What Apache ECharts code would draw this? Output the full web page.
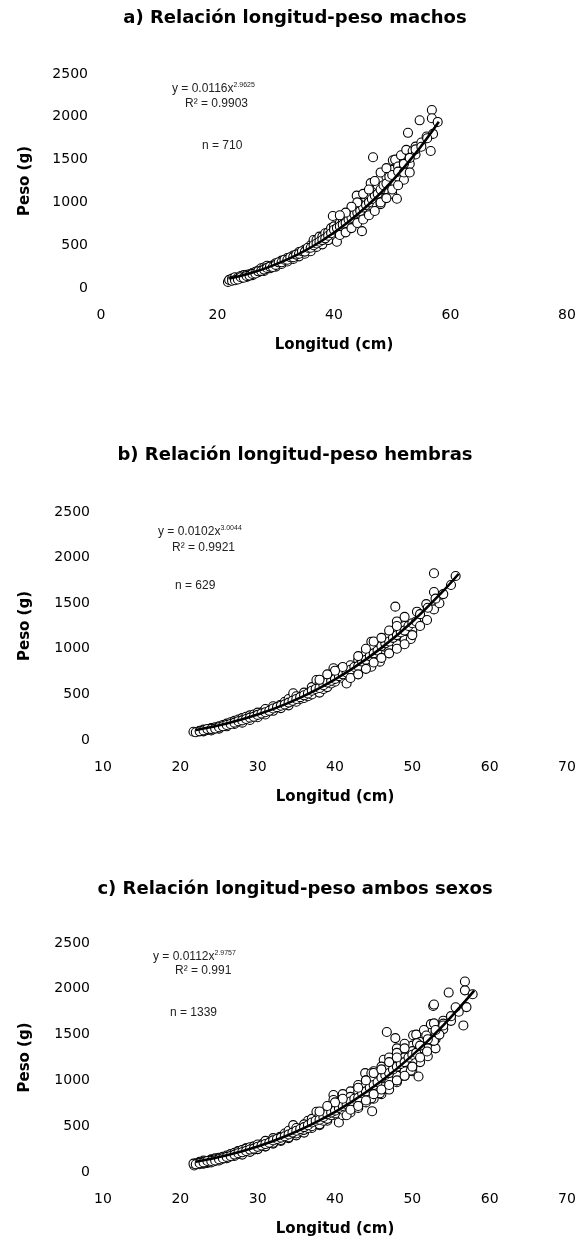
<!DOCTYPE html>
<html>
<head>
<meta charset="utf-8">
<script src="https://cdn.jsdelivr.net/npm/echarts@6/dist/echarts.min.js"></script>
<style>
  html, body { margin: 0; padding: 0; background: #fff; }
  #chart { width: 581px; height: 1247px; }
</style>
</head>
<body>
<div id="chart"></div>
<script>
// Length (cm) / weight (g) pairs, males
const machos = [
  [21.8,71],[22,95],[22.5,110],[23,105],[23,125],[23.5,120],[24,115],[24,140],[24.5,150],[25,130],
  [25,155],[25.5,160],[26,150],[26,175],[26.5,190],[27,185],[27,205],[27.5,230],[28,200],[28,240],
  [28.5,260],[29,230],[29.5,265],[30,250],[30,290],[31,280],[31,320],[32,310],[32,350],[33,340],
  [33,380],[34,370],[34,420],[35,400],[35,450],[36,430],[36,500],[36.5,560],[37,480],[37,560],
  [37.5,600],[38,510],[38,600],[38.5,640],[39,560],[39,650],[39.5,700],[39.8,841],[40,620],[40,720],
  [40.5,540],[41,660],[41,760],[41.5,800],[42,700],[42,820],[42.5,880],[43,760],[43,900],[43.9,1079],
  [44,800],[44,950],[44.8,664],[45,870],[45,1000],[45.5,1050],[46,900],[46,1060],[46.3,1225],[46.5,960],
  [46.7,1528],[47,1000],[47,1150],[47.5,1200],[48,980],[48,1100],[48,1280],[48.5,1050],[49,1150],[49,1300],
  [49.5,1200],[50,1100],[50,1250],[50,1380],[50.1,1493],[50.5,1500],[50.8,1043],[51,1300],[51,1420],[51.5,1550],
  [52,1264],[52,1400],[52.4,1614],[52.7,1813],[53,1450],[53.5,1600],[54,1652],[54,1560],[54.7,1959],[55,1700],
  [55.9,1770],[56.6,1600],[56.8,2080],[56.8,1983],[57,1800],[57.8,1940],
  [22.5,85],[23,90],[23.5,100],[24,125],[24.5,120],[25,140],[25.5,145],[26,165],[26.5,170],[27,195],
  [27.5,200],[28,215],[28.5,235],[29,250],[29.5,245],[30,270],[30.5,300],[31,300],[31.5,330],[32,330],
  [32.5,360],[33,360],[33.5,390],[34,400],[34.5,430],[35,425],[35.5,470],[36,470],[36.5,500],[37,520],
  [37.5,540],[38,560],[38.5,580],[39,610],[39.5,640],[40,680],[40.5,700],[41,720],[41.5,740],[42,760],
  [42.5,800],[43,820],[43.5,860],[44,880],[44.5,900],[45,940],[45.5,970],[46,1000],[46.5,1040],[47,1080],
  [47.5,1100],[48,1150],[48.5,1200],[49,1220],[49.5,1300],[50,1320],[51,1360],[52,1450],[53,1520],[54,1620],
  [55,1650],[56,1750],
  [41,620],[42,650],[43,700],[44,760],[45,800],[46,850],[47,900],[48,1000],[49,1050],[50,1150],
  [44,1000],[45,1100],[46,1150],[47,1250],[48,1350],[49,1400],[51,1200],[52,1350],[53,1350],[43,950],
  [42,880],[41,850]
];

// Length (cm) / weight (g) pairs, females
const hembras = [
  [21.7,91],[22.5,100],[23,95],[23,115],[23.5,110],[24,105],[24,130],[24.5,140],[25,125],[25,150],
  [25.5,165],[26,150],[26,180],[26.5,195],[27,175],[27,210],[27.5,225],[28,190],[28,240],[28.5,255],
  [29,220],[29,270],[29.5,280],[30,250],[30,300],[30.7,311],[31,280],[31,340],[32,320],[32,370],
  [32.9,384],[33,350],[33.5,420],[34,380],[34,450],[34.6,512],[35,420],[35,480],[35.5,450],[36,460],
  [36,520],[36.5,480],[37,500],[37,580],[37.6,658],[38,520],[38,620],[38.5,560],[39,580],[39,680],
  [39.5,620],[39.8,786],[40,640],[40,720],[40.8,786],[41,680],[41,760],[41.5,620],[42,720],[42,820],
  [42.5,780],[43,750],[43,880],[43.5,830],[44,820],[44,950],[44.7,804],[44.7,1078],[45,900],[45,1010],
  [45.8,859],[46,980],[46,1080],[46.5,1020],[47,1000],[47,1150],[47.5,1100],[47.8,1462],[48,1050],[48,1200],
  [48,1300],[48.5,1150],[49,1100],[49,1250],[49.7,1189],[49.8,1107],[50,1200],[50.6,1407],[51,1350],[51.8,1490],
  [51.9,1316],[52.8,1432],[52.8,1623],[52.8,1828],[53.5,1500],[55.6,1798],
  [22,85],[22.5,95],[23,105],[23.5,120],[24,120],[24.5,125],[25,140],[25.5,150],[26,165],[26.5,175],
  [27,190],[27.5,205],[28,215],[28.5,230],[29,245],[29.5,255],[30,275],[30.5,290],[31,305],[31.5,320],
  [32,345],[32.5,360],[33,375],[33.5,390],[34,410],[34.5,430],[35,450],[35.5,470],[36,490],[36.5,510],
  [37,540],[37.5,560],[38,570],[38.5,600],[39,630],[39.5,650],[40,670],[40.5,700],[41,720],[41.5,740],
  [42,770],[42.5,800],[43,810],[43.5,860],[44,880],[44.5,920],[45,950],[45.5,980],[46,1030],[46.5,1060],
  [47,1080],[47.5,1120],[48,1150],[48.5,1180],[49,1200],[49.5,1250],[50,1280],[50.5,1300],[51,1380],[52,1450],
  [53,1550],[54,1600],[55,1700],
  [42,680],[43,720],[44,780],[45,850],[46,900],[47,950],[48,1000],[49,1050],[43,920],[44,1000],
  [45,1080],[46,1120],[47,1200],[48,1250],[49,1350],[50,1150],[51,1250],[41,800],[40,760],[39,720],
  [38,660]
];

// Both sexes together
const ambos = machos.concat(hembras);

// Fitted power curves (length, weight)
const fitLenMachos = [22, 26, 30, 34, 38, 42, 46, 50, 54, 58];
const fitMachos    = [110, 180, 276, 399, 555, 747, 978, 1252, 1573, 1943];
const fitLenHembras = [22, 26, 30, 34, 38, 42, 46, 50, 54, 56];
const fitHembras    = [110, 182, 280, 407, 569, 768, 1010, 1297, 1635, 1823];
const fitLenAmbos = [22, 26, 30, 34, 38, 42, 46, 50, 54, 58];
const fitAmbos    = [111, 182, 279, 404, 563, 758, 993, 1273, 1601, 1980];

const titles = [
  'a) Relación longitud-peso machos',
  'b) Relación longitud-peso hembras',
  'c) Relación longitud-peso ambos sexos'
];
const eqCoef = ['0.0116', '0.0102', '0.0112'];
const eqExp = ['2.9625', '3.0044', '2.9757'];
const r2 = ['0.9903', '0.9921', '0.991'];
const nObs = ['710', '629', '1339'];
const yTicks = [0, 500, 1000, 1500, 2000, 2500];
const xRanges = [[0, 80, 20], [10, 70, 10], [10, 70, 10]];

const FONT = '"DejaVu Sans", sans-serif';
const EQFONT = '"Liberation Sans", Arial, sans-serif';

// panel layout: grid box, title centre, equation text anchors
const panels = [
  { left: 101, top: 74,  height: 214, titleY: 18,  eq: [172, 89],  r2: [185, 104],  n: [202, 146] },
  { left: 103, top: 512, height: 228, titleY: 455, eq: [158, 532], r2: [172, 548],  n: [175, 586] },
  { left: 103, top: 943, height: 229, titleY: 889, eq: [153, 957], r2: [175, 971],  n: [170, 1013] }
];

const pairs = (xs, ys) => xs.map((x, i) => [x, ys[i]]);
const scatterSets = [machos, hembras, ambos];
const fitSets = [pairs(fitLenMachos, fitMachos), pairs(fitLenHembras, fitHembras), pairs(fitLenAmbos, fitAmbos)];

const grid = [], xAxis = [], yAxis = [], series = [], graphic = [];

panels.forEach((p, i) => {
  grid.push({ left: p.left, right: 14, top: p.top, height: p.height, containLabel: false });
  xAxis.push({
    type: 'value', gridIndex: i,
    min: xRanges[i][0], max: xRanges[i][1], interval: xRanges[i][2],
    axisLine: { show: false }, axisTick: { show: false }, splitLine: { show: false },
    axisLabel: { color: '#000', fontFamily: FONT, fontSize: 14, margin: 20, formatter: v => String(v) },
    name: 'Longitud (cm)', nameLocation: 'middle', nameGap: 50,
    nameTextStyle: { color: '#000', fontFamily: FONT, fontSize: 15, fontWeight: 'bold' }
  });
  yAxis.push({
    type: 'value', gridIndex: i,
    min: yTicks[0], max: yTicks[yTicks.length - 1], interval: 500,
    axisLine: { show: false }, axisTick: { show: false }, splitLine: { show: false },
    axisLabel: { color: '#000', fontFamily: FONT, fontSize: 14, margin: 13, formatter: v => String(v) },
    name: 'Peso (g)', nameLocation: 'middle', nameGap: i === 0 ? 68 : 70, nameRotate: 90,
    nameTextStyle: { color: '#000', fontFamily: FONT, fontSize: 15, fontWeight: 'bold' }
  });
  series.push({
    type: 'scatter', xAxisIndex: i, yAxisIndex: i,
    data: scatterSets[i], symbol: 'circle', symbolSize: 9,
    itemStyle: { color: '#fff', borderColor: '#000', borderWidth: 1.1, opacity: 1 },
    silent: true, z: 2
  });
  series.push({
    type: 'line', xAxisIndex: i, yAxisIndex: i,
    data: fitSets[i], smooth: 0.4, showSymbol: false,
    lineStyle: { color: '#000', width: 2.6 },
    silent: true, z: 3
  });

  graphic.push({
    type: 'text', x: 295, y: p.titleY,
    style: { text: titles[i], fill: '#000', font: 'bold 18px ' + FONT, align: 'center', verticalAlign: 'middle' }
  });
  graphic.push({
    type: 'text', x: p.eq[0], y: p.eq[1],
    style: {
      text: '{n|y = ' + eqCoef[i] + 'x}{s|' + eqExp[i] + '}',
      align: 'left', verticalAlign: 'middle',
      rich: {
        n: { fontFamily: EQFONT, fontSize: 12, fill: '#222', lineHeight: 14 },
        s: { fontFamily: EQFONT, fontSize: 7, fill: '#222', lineHeight: 14, verticalAlign: 'top' }
      }
    }
  });
  graphic.push({
    type: 'text', x: p.r2[0], y: p.r2[1],
    style: { text: 'R² = ' + r2[i], fill: '#222', font: '12px ' + EQFONT, align: 'left', verticalAlign: 'middle' }
  });
  graphic.push({
    type: 'text', x: p.n[0], y: p.n[1],
    style: { text: 'n = ' + nObs[i], fill: '#222', font: '12px ' + EQFONT, align: 'left', verticalAlign: 'middle' }
  });
});

const chart = echarts.init(document.getElementById('chart'), null, { renderer: 'canvas' });
chart.setOption({
  animation: false,
  backgroundColor: '#fff',
  grid, xAxis, yAxis, series, graphic
});
</script>
</body>
</html>
